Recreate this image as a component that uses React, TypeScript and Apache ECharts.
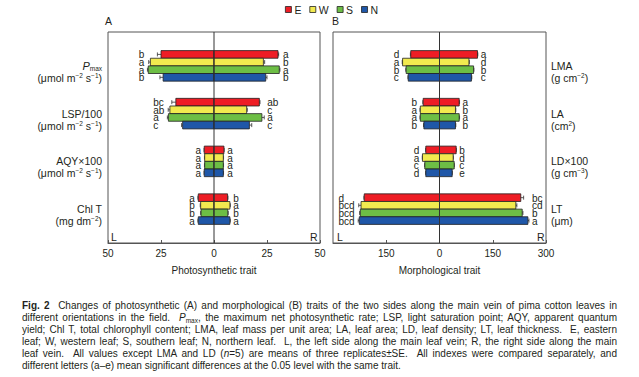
import React, { useEffect, useRef } from 'react';
import * as echarts from 'echarts';

const FONT = '"Liberation Sans", Arial, sans-serif';
const INK = '#231f20';
const EDGE = '#555555';

const orientations = ['E', 'W', 'S', 'N'];
const colors = ['#ee1d25', '#f2ea4f', '#6dbe45', '#1f57a8'];

// Panel A: photosynthetic traits (rows: trait, columns: E, W, S, N)
const traitsA = ['Pmax', 'LSP', 'AQY', 'ChlT'];
const aLeft = [[25, 30, 31, 24], [18, 20.8, 21.5, 14.8], [4.6, 4.4, 4.4, 4.6], [7.4, 6.3, 6.1, 7.4]];
const aRight = [[30.2, 23.3, 30.8, 24.4], [21.4, 15.4, 22.6, 16.7], [4.7, 4.4, 4.4, 4.4], [6.4, 7.5, 6.5, 7.5]];
const aLeftErr = [[1.7, 0.8, 0.4, 1.5], [1.9, 0.8, 0.5, 0.5], [0.1, 0.1, 0.1, 0.1], [0.2, 0.2, 0.2, 0.2]];
const aRightErr = [[0.3, 0.6, 0.3, 0.6], [0.3, 0.3, 1.1, 1.1], [0.1, 0.1, 0.1, 0.1], [0.2, 0.2, 0.2, 0.2]];
const aLeftLetters = [['b', 'a', 'a', 'b'], ['bc', 'ab', 'a', 'c'], ['a', 'a', 'a', 'a'], ['a', 'b', 'b', 'a']];
const aRightLetters = [['a', 'b', 'a', 'b'], ['ab', 'c', 'a', 'c'], ['a', 'a', 'a', 'a'], ['b', 'a', 'b', 'a']];
const aTicks = [-50, 50, 25];

// Panel B: morphological traits
const traitsB = ['LMA', 'LA', 'LD', 'LT'];
const bLeft = [[81, 104, 94, 88], [46, 54, 54, 44], [38.6, 48, 41.4, 38.6], [212, 221, 223, 226]];
const bRight = [[107, 83, 96, 90], [55.5, 45, 55.5, 45], [47, 38.6, 41.4, 35.7], [229, 215, 233, 249]];
const bLeftErr = [[1, 1, 1, 1], [1, 1, 1, 1], [0.5, 0.5, 0.5, 0.5], [1, 6.5, 2, 3]];
const bRightErr = [[1, 1, 1, 1], [1, 1, 1, 1], [0.5, 0.5, 0.5, 0.5], [8, 3, 2, 3]];
const bLeftLetters = [['d', 'a', 'b', 'c'], ['b', 'a', 'a', 'b'], ['d', 'a', 'c', 'd'], ['d', 'bcd', 'bcd', 'bcd']];
const bRightLetters = [['a', 'd', 'b', 'c'], ['a', 'b', 'a', 'b'], ['b', 'd', 'c', 'e'], ['bc', 'cd', 'b', 'a']];
const bTicks = [-300, 300, 150];

const labelsA: Record<string, string> = {
  Pmax: '\n{pi|P}{sub|max}\n{t|(μmol m}{sup|−2}{t| s}{sup|−1}{t|)}',
  LSP: '\n{t|LSP/100}\n{t|(μmol m}{sup|−2}{t| s}{sup|−1}{t|)}',
  AQY: '\n{t|AQY×100}\n{t|(μmol m}{sup|−2}{t| s}{sup|−1}{t|)}',
  ChlT: '\n{t|Chl T}\n{t|(mg dm}{sup|−2}{t|)}',
};
const labelsB: Record<string, string> = {
  LMA: '\n{t|LMA}\n{t|(g cm}{sup|−2}{t|)}',
  LA: '\n{t|LA}\n{t|(cm}{sup|2}{t|)}',
  LD: '\n{t|LD×100}\n{t|(g cm}{sup|−3}{t|)}',
  LT: '\n{t|LT}\n{t|(μm)}',
};

const rich = {
  t: { fontSize: 10.5, fontFamily: FONT, color: INK, lineHeight: 12 },
  pi: { fontSize: 11, fontStyle: 'italic', fontFamily: FONT, color: INK, lineHeight: 12 },
  sub: { fontSize: 6.5, fontFamily: FONT, color: INK, verticalAlign: 'bottom', lineHeight: 12 },
  sup: { fontSize: 6.5, fontFamily: FONT, color: INK, verticalAlign: 'top', lineHeight: 12 },
};

type Panel = {
  left: number[][]; right: number[][]; leftErr: number[][]; rightErr: number[][];
  leftLet: string[][]; rightLet: string[][];
};

const panelA: Panel = { left: aLeft, right: aRight, leftErr: aLeftErr, rightErr: aRightErr, leftLet: aLeftLetters, rightLet: aRightLetters };
const panelB: Panel = { left: bLeft, right: bRight, leftErr: bLeftErr, rightErr: bRightErr, leftLet: bLeftLetters, rightLet: bRightLetters };

function makeSeries(p: Panel, k: number, xIdx: number, yIdx: number) {
  const leftExt = p.left.map((row, i) => Math.max(...row.map((v, j) => v + p.leftErr[i][j])));
  const rightExt = p.right.map((row, i) => Math.max(...row.map((v, j) => v + p.rightErr[i][j])));
  const leftChars = p.leftLet.map((row) => Math.max(...row.map((s) => s.length)));
  return {
    type: 'custom',
    name: orientations[k],
    xAxisIndex: xIdx,
    yAxisIndex: yIdx,
    silent: true,
    itemStyle: { color: colors[k], borderColor: '#222', borderWidth: 0.8 },
    encode: { y: 0, x: [1, 2] },
    data: p.left.map((row, i) => [i, row[k], p.right[i][k], p.leftErr[i][k], p.rightErr[i][k]]),
    renderItem: (params: any, api: any) => {
      const cat = api.value(0);
      const i = params.dataIndex;
      const l = api.value(1), r = api.value(2), le = api.value(3), re = api.value(4);
      const c0 = api.coord([0, cat]);
      const band = api.size([0, 1])[1];
      const h = band * 0.16;
      const top = c0[1] - 2 * h + k * h;
      const mid = top + h / 2;
      const xl = api.coord([-l, cat])[0];
      const xr = api.coord([r, cat])[0];
      const xle = api.coord([-(l + le), cat])[0];
      const xre = api.coord([r + re, cat])[0];
      const rectStyle = { fill: colors[k], stroke: '#222', lineWidth: 0.8 };
      const errStyle = { stroke: '#333', lineWidth: 0.8, fill: null };
      const xLeftCol = api.coord([-leftExt[i], cat])[0] - 3 - leftChars[i] * 5.6;
      const xRightCol = api.coord([rightExt[i], cat])[0] + 3;
      const txt = (text: string, x: number) => ({
        type: 'text',
        style: { text, x, y: mid + 0.5, textAlign: 'left', textVerticalAlign: 'middle', fontSize: 10, fontFamily: FONT, fill: INK },
      });
      return {
        type: 'group',
        children: [
          { type: 'line', shape: { x1: xle, y1: mid, x2: xl, y2: mid }, style: errStyle },
          { type: 'line', shape: { x1: xle, y1: mid - 2, x2: xle, y2: mid + 2 }, style: errStyle },
          { type: 'line', shape: { x1: xr, y1: mid, x2: xre, y2: mid }, style: errStyle },
          { type: 'line', shape: { x1: xre, y1: mid - 2, x2: xre, y2: mid + 2 }, style: errStyle },
          { type: 'rect', shape: { x: xl, y: top, width: c0[0] - xl, height: h }, style: rectStyle },
          { type: 'rect', shape: { x: c0[0], y: top, width: xr - c0[0], height: h }, style: rectStyle },
          txt(p.leftLet[i][k], xLeftCol),
          txt(p.rightLet[i][k], xRightCol),
        ],
      };
    },
  };
}

function outerX(gridIndex: number, ticks: number[], name: string, showMin: boolean) {
  return {
    type: 'value', gridIndex, min: ticks[0], max: ticks[1], interval: ticks[2],
    axisLine: { show: true, lineStyle: { color: EDGE, width: 1 } },
    axisTick: { show: true, inside: true, length: 3, lineStyle: { color: EDGE } },
    axisLabel: { fontSize: 10, fontFamily: FONT, color: INK, margin: 5, showMinLabel: showMin, formatter: (v: number) => String(Math.abs(v)) },
    splitLine: { show: false },
    name, nameLocation: 'middle', nameGap: 22,
    nameTextStyle: { fontSize: 10, fontFamily: FONT, color: INK },
  };
}

function innerX(gridIndex: number, ticks: number[]) {
  return { type: 'value', gridIndex, min: ticks[0], max: ticks[1], show: false, splitLine: { show: false } };
}

function innerY(gridIndex: number, keys: string[], labels: Record<string, string>, position: string) {
  return {
    type: 'category', gridIndex, data: keys, inverse: true, position,
    axisLine: { show: false },
    axisTick: { show: true, inside: true, length: 3, alignWithLabel: true, lineStyle: { color: EDGE } },
    axisLabel: { margin: position === 'left' ? 6 : 5, lineHeight: 12, fontSize: 10.5, fontFamily: FONT, color: INK, formatter: (v: string) => labels[v], rich },
    splitLine: { show: false },
  };
}

export default function App() {
  const ref = useRef<HTMLDivElement>(null);
  useEffect(() => {
    if (!ref.current) return;
    const chart = echarts.init(ref.current, null, { renderer: 'svg' });
    const zeroLine = (xi: number, yi: number) => ({
      type: 'line', xAxisIndex: xi, yAxisIndex: yi, data: [[0, 0], [0, 1]], symbol: 'none', silent: true, z: 10,
      lineStyle: { color: '#333', width: 1 },
    });
    const option: any = {
      animation: false,
      backgroundColor: '#ffffff',
      textStyle: { fontFamily: FONT },
      legend: {
        data: orientations, left: 285, top: 4, padding: 0, itemWidth: 6, itemHeight: 6, itemGap: 8, icon: 'rect',
        itemStyle: { borderColor: '#222', borderWidth: 0.8 },
        textStyle: { fontSize: 10.5, fontFamily: FONT, color: INK, padding: [0, 0, 0, -2] },
        selectedMode: false,
      },
      grid: [
        { left: 108, top: 32, width: 212, height: 211, show: true, borderColor: EDGE, borderWidth: 1, backgroundColor: 'transparent' },
        { left: 108, top: 42, width: 212, height: 191 },
        { left: 333, top: 32, width: 213, height: 211, show: true, borderColor: EDGE, borderWidth: 1, backgroundColor: 'transparent' },
        { left: 333, top: 42, width: 213, height: 191 },
      ],
      xAxis: [
        outerX(0, aTicks, 'Photosynthetic trait', true),
        innerX(1, aTicks),
        outerX(2, bTicks, 'Morphological trait', false),
        innerX(3, bTicks),
      ],
      yAxis: [
        { type: 'value', gridIndex: 0, min: 0, max: 1, show: false },
        innerY(1, traitsA, labelsA, 'left'),
        { type: 'value', gridIndex: 2, min: 0, max: 1, show: false },
        innerY(3, traitsB, labelsB, 'right'),
      ],
      graphic: [
        { type: 'text', left: 105, top: 15, style: { text: 'A', fontSize: 10.5, fontFamily: FONT, fill: INK } },
        { type: 'text', left: 332, top: 15, style: { text: 'B', fontSize: 10.5, fontFamily: FONT, fill: INK } },
        { type: 'text', left: 111, top: 231, style: { text: 'L', fontSize: 10.5, fontFamily: FONT, fill: INK } },
        { type: 'text', left: 310, top: 231, style: { text: 'R', fontSize: 10.5, fontFamily: FONT, fill: INK } },
        { type: 'text', left: 337, top: 231, style: { text: 'L', fontSize: 10.5, fontFamily: FONT, fill: INK } },
        { type: 'text', left: 537, top: 231, style: { text: 'R', fontSize: 10.5, fontFamily: FONT, fill: INK } },
      ],
      series: [
        ...orientations.map((_, k) => makeSeries(panelA, k, 1, 1)),
        ...orientations.map((_, k) => makeSeries(panelB, k, 3, 3)),
        zeroLine(0, 0),
        zeroLine(2, 2),
      ],
    };
    chart.setOption(option);
    return () => chart.dispose();
  }, []);

  const lineStyle = (top: number, last = false): React.CSSProperties => ({
    position: 'absolute', left: 22, top, width: 595, lineHeight: '12px', height: 12,
    textAlign: last ? 'left' : 'justify', textAlignLast: last ? 'left' : 'justify', whiteSpace: 'normal',
  });
  const sub: React.CSSProperties = { fontSize: '6.5px', position: 'relative', top: 2 };

  return (
    <div style={{ position: 'fixed', left: 0, top: 0, width: 639, height: 377, background: '#fff' }}>
      <div ref={ref} style={{ position: 'absolute', left: 0, top: 0, width: 639, height: 290 }} />
      <div style={{ position: 'absolute', left: 0, top: 0, width: 639, height: 377, fontFamily: FONT, fontSize: '10px', color: INK, pointerEvents: 'none' }}>
        <div style={lineStyle(300)}><b>Fig. 2</b>&nbsp; Changes of photosynthetic (A) and morphological (B) traits of the two sides along the main vein of pima cotton leaves in</div>
        <div style={lineStyle(312)}>different orientations in the field.&nbsp; <i>P</i><span style={sub}>max</span>, the maximum net photosynthetic rate; LSP, light saturation point; AQY, apparent quantum</div>
        <div style={lineStyle(324)}>yield; Chl T, total chlorophyll content; LMA, leaf mass per unit area; LA, leaf area; LD, leaf density; LT, leaf thickness.&nbsp; E, eastern</div>
        <div style={lineStyle(336)}>leaf; W, western leaf; S, southern leaf; N, northern leaf.&nbsp; L, the left side along the main leaf vein; R, the right side along the main</div>
        <div style={lineStyle(348)}>leaf vein.&nbsp; All values except LMA and LD (<i>n</i>=5) are means of three replicates±SE.&nbsp; All indexes were compared separately, and</div>
        <div style={lineStyle(360, true)}>different letters (a–e) mean significant differences at the 0.05 level with the same trait.</div>
      </div>
    </div>
  );
}
